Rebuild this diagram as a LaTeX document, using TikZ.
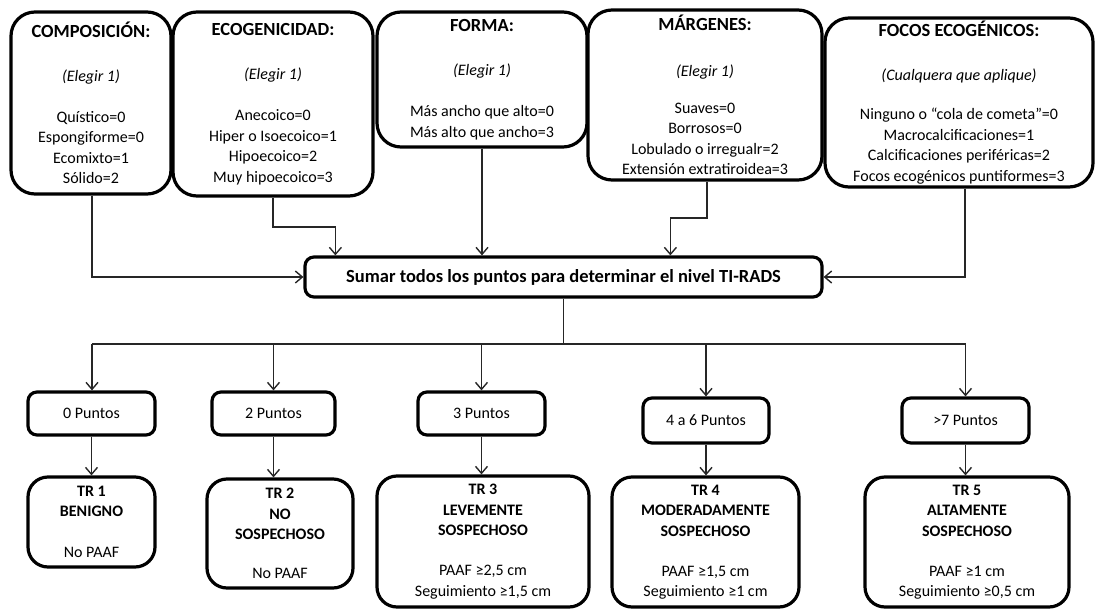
\documentclass[tikz,border=0pt]{standalone}
\usepackage{fontspec}
\setmainfont{Carlito}
\usetikzlibrary{arrows.meta,calc}
\tikzset{
  box/.style={draw=black, line width=3.2pt, align=center, inner sep=0pt, text=black,
    font=\fontsize{16}{20.5}\selectfont},
  topbox/.style={box, rounded corners=24pt},
  sumbox/.style={box, rounded corners=9pt},
  ptbox/.style={box, rounded corners=9pt},
  trbox/.style={box, rounded corners=20pt},
  conn/.style={draw=black!85, line width=1.5pt, -{Straight Barb[length=7pt,width=12pt,line width=1.4pt]}},
  plain/.style={draw=black!85, line width=1.5pt},
}
\newcommand{\hd}[1]{{\fontsize{18.5}{20.5}\selectfont\bfseries #1}}
\begin{document}
\begin{tikzpicture}[x=1pt,y=-1pt]
\useasboundingbox (0,0) rectangle (1097,610);
% top boxes
\node[topbox, minimum width=160, minimum height=182] (comp) at (91,103)
 {\hd{COMPOSICIÓN:}\\[23.5pt] \textit{(Elegir 1)}\\[20.5pt] Quístico=0\\ Espongiforme=0\\ Ecomixto=1\\ Sólido=2};
\node[topbox, minimum width=200, minimum height=184] (eco) at (273,104)
 {\hd{ECOGENICIDAD:}\\[23.5pt] \textit{(Elegir 1)}\\[20.5pt] Anecoico=0\\ Hiper o Isoecoico=1\\ Hipoecoico=2\\ Muy hipoecoico=3};
\node[topbox, minimum width=210, minimum height=135] (forma) at (482,79.5)
 {\hd{FORMA:}\\[23.5pt] \textit{(Elegir 1)}\\[20.5pt] Más ancho que alto=0\\ Más alto que ancho=3};
\node[topbox, minimum width=234, minimum height=170] (marg) at (705,95)
 {\hd{MÁRGENES:}\\[26pt] \textit{(Elegir 1)}\\[16pt] Suaves=0\\ Borrosos=0\\ Lobulado o irregualr=2\\ Extensión extratiroidea=3};
\node[topbox, minimum width=268, minimum height=169] (focos) at (959,102.5)
 {\hd{FOCOS ECOGÉNICOS:}\\[23.5pt] \textit{(Cualquera que aplique)}\\[18.5pt] Ninguno o “cola de cometa”=0\\ Macrocalcificaciones=1\\ Calcificaciones periféricas=2\\ Focos ecogénicos puntiformes=3};
% sum box
\node[sumbox, minimum width=517, minimum height=40, font=\fontsize{18.5}{20.5}\selectfont\bfseries] (sumar) at (563.5,277)
 {Sumar todos los puntos para determinar el nivel TI-RADS};
% point boxes
\node[ptbox, minimum width=127, minimum height=43] (p0) at (91.5,413.5) {0 Puntos};
\node[ptbox, minimum width=123, minimum height=43] (p2) at (273.5,413.5) {2 Puntos};
\node[ptbox, minimum width=127, minimum height=43] (p3) at (481.5,413.5) {3 Puntos};
\node[ptbox, minimum width=126, minimum height=45] (p4) at (706,420.5) {4 a 6 Puntos};
\node[ptbox, minimum width=127, minimum height=45] (p5) at (965.5,420.5) {>7 Puntos};
% TR boxes
\node[trbox, minimum width=127, minimum height=90] (tr1) at (91.5,522)
 {\textbf{TR 1}\\ \textbf{BENIGNO}\\[20.5pt] No PAAF};
\node[trbox, minimum width=146, minimum height=109] (tr2) at (280,533.5)
 {\textbf{TR 2}\\ \textbf{NO}\\ \textbf{SOSPECHOSO}\\[18.5pt] No PAAF};
\node[trbox, minimum width=212, minimum height=131] (tr3) at (483,541.5)
 {\textbf{TR 3}\\ \textbf{LEVEMENTE}\\ \textbf{SOSPECHOSO}\\[19.5pt] PAAF ≥2,5 cm\\ Seguimiento ≥1,5 cm};
\node[trbox, minimum width=187, minimum height=130] (tr4) at (705.5,542)
 {\textbf{TR 4}\\ \textbf{MODERADAMENTE}\\ \textbf{SOSPECHOSO}\\[19.5pt] PAAF ≥1,5 cm\\ Seguimiento ≥1 cm};
\node[trbox, minimum width=204, minimum height=130] (tr5) at (967,542)
 {\textbf{TR 5}\\ \textbf{ALTAMENTE}\\ \textbf{SOSPECHOSO}\\[19.5pt] PAAF ≥1 cm\\ Seguimiento ≥0,5 cm};
% connectors top -> sum
\draw[conn] ([xshift=1]comp.south) |- (sumar.west);
\draw[conn] (eco.south) -- (eco.south |- 0,227) -| ([xshift=32]sumar.north west);
\draw[conn] (forma.south) -- (forma.south |- sumar.north);
\draw[conn] ([xshift=2]marg.south) -- ([xshift=2]marg.south |- 0,218) -| ([xshift=367]sumar.north west);
\draw[conn] ([xshift=6]focos.south) |- (sumar.east);
% sum -> bus
\coordinate (busL) at (92,344);
\coordinate (busR) at (965.5,344);
\draw[plain] (sumar.south) -- (sumar.south |- busL);
\draw[plain] (busL) -- (busR);
\draw[conn] (busL) -- (busL |- p0.north);
\draw[conn] (p2.north |- busL) -- (p2.north);
\draw[conn] (p3.north |- busL) -- (p3.north);
\draw[conn] (p4.north |- busL) -- (p4.north);
\draw[conn] (busR) -- (p5.north);
% points -> TR
\draw[conn] (p0.south) -- (p0.south |- tr1.north);
\draw[conn] (p2.south) -- (p2.south |- tr2.north);
\draw[conn] (p3.south) -- (p3.south |- tr3.north);
\draw[conn] (p4.south) -- (p4.south |- tr4.north);
\draw[conn] (p5.south) -- (p5.south |- tr5.north);
\end{tikzpicture}
\end{document}
